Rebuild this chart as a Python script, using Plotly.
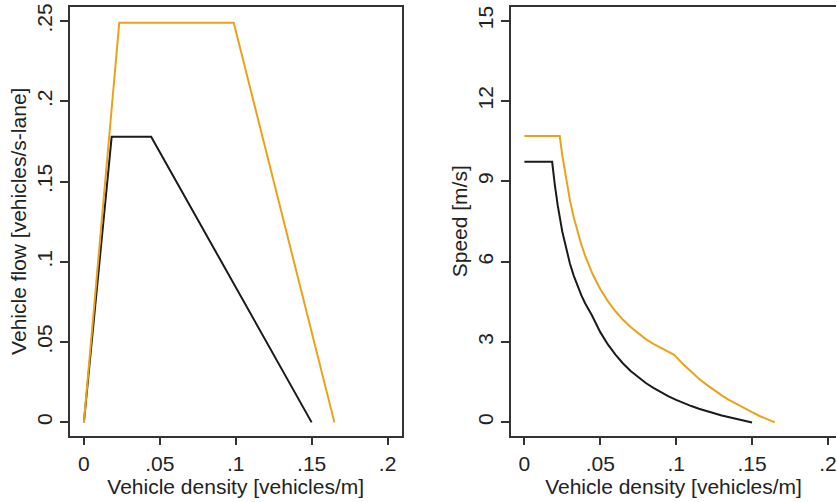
import plotly.graph_objects as go

# Flow-density (fundamental diagram)
density_black = [0, 0.0183, 0.0443, 0.15]
flow_black = [0, 0.178, 0.178, 0]
density_orange = [0, 0.0233, 0.0987, 0.165]
flow_orange = [0, 0.249, 0.249, 0]

# Speed-density
speed_density_black = [0, 0.0183, 0.02, 0.022, 0.025, 0.0275, 0.03, 0.0325, 0.035,
                       0.0375, 0.04, 0.0443, 0.05, 0.055, 0.06, 0.065, 0.07, 0.075,
                       0.08, 0.085, 0.09, 0.095, 0.10, 0.105, 0.11, 0.115, 0.12,
                       0.125, 0.13, 0.135, 0.14, 0.145, 0.15]
speed_black = [9.73, 9.73, 8.9, 8.09, 7.12, 6.47, 5.93, 5.48, 5.09,
               4.75, 4.45, 4.02, 3.37, 2.91, 2.53, 2.20, 1.92, 1.68,
               1.47, 1.29, 1.12, 0.975, 0.84, 0.72, 0.61, 0.51, 0.42,
               0.34, 0.26, 0.19, 0.12, 0.06, 0]
speed_density_orange = [0, 0.0233, 0.025, 0.0275, 0.03, 0.0325, 0.035, 0.0375, 0.04,
                        0.045, 0.05, 0.055, 0.06, 0.065, 0.07, 0.075, 0.08, 0.085,
                        0.09, 0.0987, 0.105, 0.11, 0.115, 0.12, 0.125, 0.13, 0.135,
                        0.14, 0.145, 0.15, 0.155, 0.16, 0.165]
speed_orange = [10.69, 10.69, 9.96, 9.05, 8.30, 7.66, 7.11, 6.64, 6.23,
                5.53, 4.98, 4.53, 4.15, 3.83, 3.56, 3.32, 3.11, 2.93,
                2.77, 2.52, 2.15, 1.88, 1.63, 1.41, 1.20, 1.01, 0.83,
                0.67, 0.52, 0.38, 0.24, 0.12, 0]

x_ticks = [0, 0.05, 0.1, 0.15, 0.2]
x_ticklabels = ["0", ".05", ".1", ".15", ".2"]
flow_ticks = [0, 0.05, 0.1, 0.15, 0.2, 0.25]
flow_ticklabels = ["0", ".05", ".1", ".15", ".2", ".25"]
speed_ticks = [0, 3, 6, 9, 12, 15]
speed_ticklabels = ["0", "3", "6", "9", "12", "15"]

BLACK = "#1a1a1a"
ORANGE = "#E9A31A"
AX = "#333333"
FONT = dict(family="Liberation Sans, Arial, sans-serif", size=21, color="#222222")
W, H = 837, 502

fig = go.Figure()
fig.add_trace(go.Scatter(x=density_black, y=flow_black, mode="lines",
                         line=dict(color=BLACK, width=2), xaxis="x", yaxis="y"))
fig.add_trace(go.Scatter(x=density_orange, y=flow_orange, mode="lines",
                         line=dict(color=ORANGE, width=2), xaxis="x", yaxis="y"))
fig.add_trace(go.Scatter(x=speed_density_black, y=speed_black, mode="lines",
                         line=dict(color=BLACK, width=2), xaxis="x2", yaxis="y2"))
fig.add_trace(go.Scatter(x=speed_density_orange, y=speed_orange, mode="lines",
                         line=dict(color=ORANGE, width=2), xaxis="x2", yaxis="y2"))

ydom = [1 - 435 / H, 1 - 3 / H]
common = dict(showgrid=False, zeroline=False, showline=True, linecolor=AX, linewidth=1.8,
              ticks="outside", ticklen=8, tickwidth=1.5, tickcolor=AX, tickfont=FONT,
              ticklabeloverflow="allow")

fig.update_layout(
    width=W, height=H, autosize=False,
    margin=dict(l=0, r=0, t=0, b=0),
    paper_bgcolor="white", plot_bgcolor="white",
    showlegend=False,
    font=FONT,
    xaxis=dict(domain=[70 / W, 402 / W], range=[-0.0092, 0.2092], anchor="y",
               tickvals=x_ticks, ticktext=x_ticklabels, mirror=True,
               title=dict(text="Vehicle density [vehicles/m]", font=FONT, standoff=2),
               **common),
    yaxis=dict(domain=ydom, range=[-0.0082, 0.2588], anchor="x",
               tickvals=flow_ticks, ticktext=flow_ticklabels, tickangle=-90, mirror=True,
               title=dict(text="Vehicle flow [vehicles/s-lane]", font=FONT, standoff=0),
               **common),
    xaxis2=dict(domain=[511.7 / W, 1.0], range=[-0.00875, 0.2053], anchor="y2",
                tickvals=x_ticks, ticktext=x_ticklabels, mirror=True,
                title=dict(text="Vehicle density [vehicles/m]", font=FONT, standoff=2),
                **common),
    yaxis2=dict(domain=ydom, range=[-0.49, 15.51], anchor="x2",
                tickvals=speed_ticks, ticktext=speed_ticklabels, tickangle=-90, mirror=False,
                title=dict(text="Speed [m/s]", font=FONT, standoff=0),
                **common),
)

fig.write_html("out.html", config={"displayModeBar": False},
               post_script="document.body.style.margin='0';document.body.style.overflow='hidden';")
